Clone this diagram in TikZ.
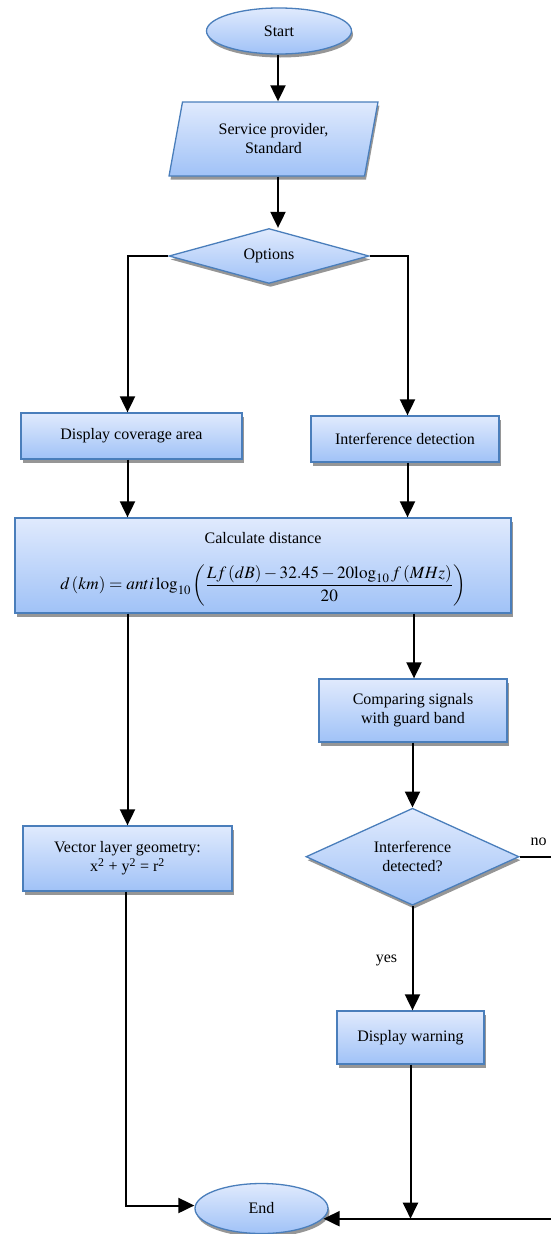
\documentclass[tikz,border=0pt]{standalone}
\usepackage{mathptmx}
\usepackage{fontspec}
\setmainfont{Liberation Serif}
\usetikzlibrary{shapes.geometric,arrows.meta,shadows}
\definecolor{bordc}{RGB}{74,126,187}
\definecolor{topc}{RGB}{224,234,253}
\definecolor{botc}{RGB}{160,194,247}
\definecolor{shadc}{RGB}{150,150,150}
\tikzset{
  fbox/.style={draw=bordc, line width=1.3pt, top color=topc, bottom color=botc,
    drop shadow={shadow xshift=1.5pt, shadow yshift=-3.5pt, fill=shadc, opacity=1},
    font=\fontsize{16}{19}\selectfont, align=center, inner sep=0pt, text=black},
  procbox/.style={fbox, rectangle},
  termbox/.style={fbox, ellipse},
  decbox/.style={fbox, diamond},
  iobox/.style={fbox, trapezium, trapezium left angle=75, trapezium right angle=105, trapezium stretches=true},
  arr/.style={line width=2pt, -{Triangle[length=16pt,width=15pt]}},
  lbl/.style={font=\fontsize{16}{19}\selectfont, inner sep=0pt}
}
\begin{document}
\begin{tikzpicture}[x=1pt, y=-1pt]
\useasboundingbox (0,0) rectangle (551,1234);
% nodes
\node[termbox, minimum width=145pt, minimum height=46pt] (start) at (279,31) {Start};
\node[iobox, minimum width=209pt, minimum height=74pt] (io) at (273.5,139) {Service provider,\\Standard};
\node[decbox, aspect=3.6, minimum width=200pt, minimum height=55pt] (opt) at (269,256) {Options};
\node[procbox, minimum width=221pt, minimum height=46pt] (cov) at (131.5,436) {Display coverage area};
\node[procbox, minimum width=188pt, minimum height=46pt] (intf) at (405,439) {Interference detection};
\node[procbox, minimum width=496pt, minimum height=95pt] (calc) at (263,565.5)
  {\rule{0pt}{19pt}Calculate distance\\[20pt]{\fontsize{17.2}{20}\selectfont$\displaystyle d\,(km)=anti\log_{10}\left(\frac{Lf\,(dB)-32.45-20\!\log_{10}f\,(MHz)}{20}\right)$}};
\node[procbox, minimum width=188pt, minimum height=63pt] (comp) at (413,710.5) {Comparing signals\\with guard band};
\node[procbox, minimum width=209pt, minimum height=65pt] (vec) at (127.5,858.5) {Vector layer geometry:\\x\textsuperscript{2} + y\textsuperscript{2} = r\textsuperscript{2}};
\node[decbox, aspect=2.2, minimum width=213pt, minimum height=97pt] (det) at (412.5,856.7) {Interference\\detected?};
\node[procbox, minimum width=147pt, minimum height=53pt] (warn) at (410.5,1037.5) {Display warning};
\node[termbox, minimum width=133pt, minimum height=50pt] (endn) at (261.5,1208.5) {End};
\node[lbl] (yes) at (386.5,960) {yes};
\node[lbl] (no) at (538.5,842) {no};
% helper coordinates
\coordinate (xs) at (278,0);
\coordinate (xl) at (127.5,0);
\coordinate (xr) at (407.5,0);
\coordinate (xm) at (414,0);
\coordinate (rc) at (553,1218.7);
% connectors
\draw[arr] (start.south -| xs) -- (io.north -| xs);
\draw[arr] (io.south -| xs) -- (opt.north -| xs);
\draw[arr] (opt.west) -| (cov.north -| xl);
\draw[arr] (opt.east) -| (intf.north -| xr);
\draw[arr] (cov.south -| xl) -- (calc.north -| xl);
\draw[arr] (intf.south -| xr) -- (calc.north -| xr);
\draw[arr] (calc.south -| xl) -- (vec.north -| xl);
\draw[arr] (calc.south -| xm) -- (comp.north -| xm);
\draw[arr] (comp.south -| det.north) -- (det.north);
\draw[arr] (det.south) -- (warn.north -| det.south);
\draw[arr] (vec.south -| 125.5,0) |- ([yshift=3pt]endn.west);
\draw[line width=2pt] (det.east) -| (rc);
\draw[arr] (rc) -- (rc -| endn.-9.5);
\draw[arr] (warn.south) -- (warn.south |- rc);
\end{tikzpicture}
\end{document}
